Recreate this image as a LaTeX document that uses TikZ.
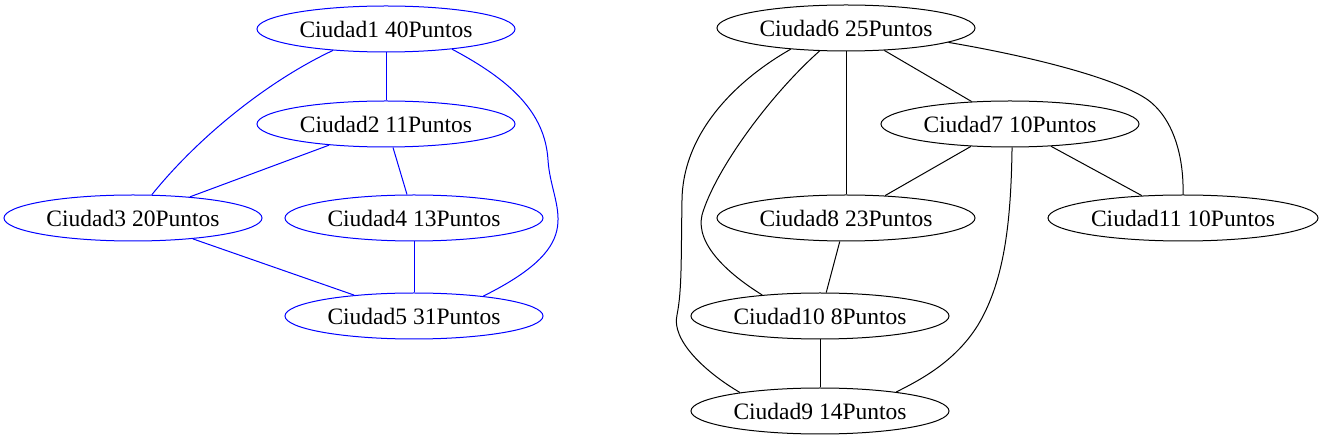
\documentclass[tikz,border=0pt]{standalone}
\usepackage{fontspec}
\setmainfont{Liberation Serif}
\usetikzlibrary{shapes.geometric}
\begin{document}
\begin{tikzpicture}[x=1pt,y=-1pt,
  city/.style={ellipse,draw,line width=1pt,inner sep=0pt,minimum width=258pt,minimum height=46pt,font=\fontsize{23.5}{28}\selectfont},
  bcity/.style={city,draw=blue},
  bedge/.style={draw=blue,line width=1pt},
  kedge/.style={draw=black,line width=1pt}]
\useasboundingbox (0,0) rectangle (1326,443);
% left component
\node[bcity] (n1) at (386,29) {Ciudad1 40Puntos};
\node[bcity] (n2) at (386,124) {Ciudad2 11Puntos};
\node[bcity] (n3) at (133,218) {Ciudad3 20Puntos};
\node[bcity] (n4) at (414,218) {Ciudad4 13Puntos};
\node[bcity] (n5) at (414,316) {Ciudad5 31Puntos};
% right component
\node[city] (n6) at (846,28) {Ciudad6 25Puntos};
\node[city] (n7) at (1010,124) {Ciudad7 10Puntos};
\node[city] (n8) at (846,218) {Ciudad8 23Puntos};
\node[city,minimum width=270pt] (n11) at (1183,218) {Ciudad11 10Puntos};
\node[city] (n10) at (820,316) {Ciudad10 8Puntos};
\node[city] (n9) at (820,411) {Ciudad9 14Puntos};
% left edges
\draw[bedge] (n1) -- (n2);
\draw[bedge] (n1.202) .. controls (270,80) and (200,135) .. (n3.51);
\draw[bedge] (n1.-17) .. controls (510,80) and (545,112) .. (548,160)
   .. controls (551,210) and (592,242) .. (n5.16);
\draw[bedge] (n2) -- (n3);
\draw[bedge] (n2) -- (n4);
\draw[bedge] (n3) -- (n5);
\draw[bedge] (n4) -- (n5);
% right edges
\draw[kedge] (n6) -- (n7);
\draw[kedge] (n6) -- (n8);
\draw[kedge] (n6.-8) .. controls (1040,58) and (1120,80) .. (1148,100)
   .. controls (1175,120) and (1184,160) .. (n11.90);
\draw[kedge] (n6.201) .. controls (740,78) and (683,130) .. (682,200)
   .. controls (681,260) and (682,290) .. (677,315)
   .. controls (671,340) and (705,372) .. (n9.167);
\draw[kedge] (n6.221) .. controls (770,95) and (715,170) .. (702,215)
   .. controls (695,245) and (730,275) .. (n10.160);
\draw[kedge] (n7) -- (n8);
\draw[kedge] (n7) -- (n11);
\draw[kedge] (n7.-85) .. controls (1011,220) and (1005,280) .. (978,325)
   .. controls (955,362) and (920,380) .. (n9.14);
\draw[kedge] (n8) -- (n10);
\draw[kedge] (n10) -- (n9);
\end{tikzpicture}
\end{document}
